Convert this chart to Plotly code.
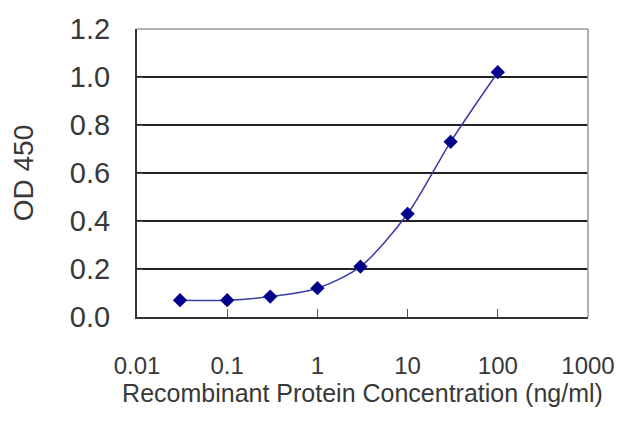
import plotly.graph_objects as go

conc = [0.03, 0.1, 0.3, 1, 3, 10, 30, 100]
od = [0.07, 0.07, 0.085, 0.12, 0.21, 0.43, 0.73, 1.02]
x_ticks = [0.01, 0.1, 1, 10, 100, 1000]
x_tick_labels = ["0.01", "0.1", "1", "10", "100", "1000"]
y_ticks = [0.0, 0.2, 0.4, 0.6, 0.8, 1.0, 1.2]
y_tick_labels = ["0.0", "0.2", "0.4", "0.6", "0.8", "1.0", "1.2"]

fig = go.Figure()
fig.add_trace(go.Scatter(
    x=conc, y=od, mode="lines+markers",
    line=dict(color="#3a3aa8", width=1.5, shape="spline", smoothing=0.8),
    marker=dict(symbol="diamond", size=11, color="#00008b"),
    showlegend=False,
))

font = dict(family="Liberation Sans, Arial, sans-serif", color="#383838")
fig.update_layout(
    width=632, height=419,
    margin=dict(l=129, r=52, t=21, b=110),
    paper_bgcolor="white", plot_bgcolor="white",
    font=font,
    xaxis=dict(
        type="log", range=[-2, 3],
        tickvals=x_ticks, ticktext=x_tick_labels,
        ticks="inside", ticklen=8, tickcolor="#555555",
        tickfont=dict(size=24, color="#383838"),
        ticklabelstandoff=26,
        showgrid=False, zeroline=False, automargin=False,
        showline=True, linecolor="#333333", linewidth=2, mirror=False,
        title=dict(text="Recombinant Protein Concentration (ng/ml)",
                   font=dict(size=25, color="#383838"), standoff=0),
    ),
    yaxis=dict(
        range=[0, 1.2],
        tickvals=y_ticks, ticktext=y_tick_labels,
        ticks="inside", ticklen=6, tickcolor="#555555",
        tickfont=dict(size=29, color="#383838"),
        ticklabelstandoff=19,
        showgrid=True, gridcolor="#222222", gridwidth=2,
        zeroline=False, automargin=False,
        showline=True, linecolor="#333333", linewidth=2,
        title=dict(text="OD 450", font=dict(size=28, color="#383838"), standoff=43),
    ),
    shapes=[
        dict(type="line", xref="paper", yref="paper", x0=0, x1=1, y0=1, y1=1,
             line=dict(color="#999999", width=1.5)),
        dict(type="line", xref="paper", yref="paper", x0=1, x1=1, y0=0, y1=1,
             line=dict(color="#999999", width=1.5)),
    ],
)

fig.write_html("out.html")
